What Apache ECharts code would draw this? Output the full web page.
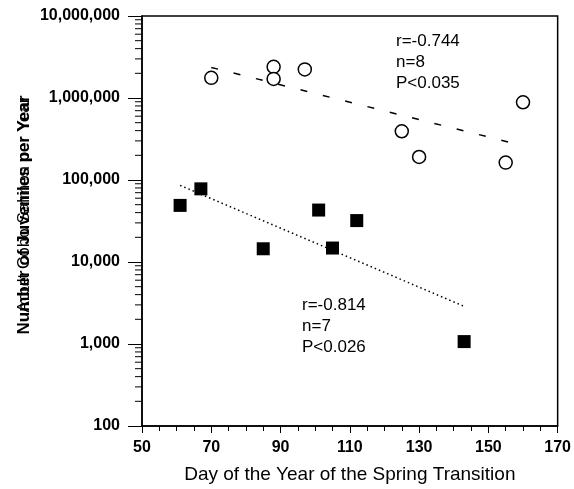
<!DOCTYPE html>
<html>
<head>
<meta charset="utf-8">
<script src="https://cdn.jsdelivr.net/npm/echarts@6/dist/echarts.min.js"></script>
<style>
  html, body { margin: 0; padding: 0; background: #fff; }
  #main { width: 574px; height: 489px; }
</style>
</head>
<body>
<div id="main"></div>
<script>
// open circles (upper group)
const circleDays = [70, 88, 88, 97, 125, 130, 155, 160]
const circleValues = [1760000, 2400000, 1710000, 2230000, 393000, 191000, 163000, 887000]
// filled squares (lower group)
const squareDays = [61, 67, 85, 101, 105, 112, 143]
const squareValues = [49000, 78000, 14500, 43000, 14800, 32000, 1070]
// fitted trend lines (end points)
const circleFitDays = [70, 156]
const circleFitValues = [2360000, 289000]
const squareFitDays = [61, 143]
const squareFitValues = [86000, 2880]
// log minor tick values
const minorTickValues = []
for (let d = 100; d < 10000000; d *= 10) {
  for (let m = 2; m <= 9; m++) minorTickValues.push(m * d)
}

const pairs = (xs, ys) => xs.map((x, i) => [x, ys[i]])
const font = 'Arial, "Liberation Sans", sans-serif'

const chart = echarts.init(document.getElementById('main'))

chart.setOption({
  animation: false,
  backgroundColor: '#fff',
  grid: {
    left: 142,
    right: 15,
    top: 16,
    bottom: 56,
    show: true,
    borderColor: '#000',
    borderWidth: 1.5
  },
  xAxis: {
    type: 'value',
    min: 50,
    max: 170,
    interval: 20,
    name: 'Day of the Year of the Spring Transition',
    nameLocation: 'middle',
    nameGap: 39,
    nameTextStyle: { fontFamily: font, fontSize: 19, color: '#000' },
    axisLine: { onZero: false, lineStyle: { color: '#000', width: 1.5 } },
    axisTick: { inside: false, length: 7, lineStyle: { color: '#000' } },
    minorTick: { show: true, splitNumber: 4, length: 5, lineStyle: { color: '#000' } },
    axisLabel: { fontFamily: font, fontSize: 16, fontWeight: 'bold', color: '#000', margin: 14 },
    splitLine: { show: false }
  },
  yAxis: {
    type: 'log',
    logBase: 10,
    min: 100,
    max: 10000000,
    axisLine: { lineStyle: { color: '#000', width: 1.5 } },
    axisTick: { inside: false, length: 14, lineStyle: { color: '#000' } },
    axisLabel: {
      fontFamily: font,
      fontSize: 16,
      fontWeight: 'bold',
      color: '#000',
      margin: 22,
      formatter: (v) => Math.round(v).toLocaleString('en-US')
    },
    splitLine: { show: false }
  },
  graphic: [
    {
      type: 'text',
      left: 396,
      top: 31,
      style: { text: 'r=-0.744\nn=8\nP<0.035', font: '17px ' + font, fill: '#000', lineHeight: 21 }
    },
    {
      type: 'text',
      left: 302,
      top: 295,
      style: { text: 'r=-0.814\nn=7\nP<0.026', font: '17px ' + font, fill: '#000', lineHeight: 21 }
    },
    {
      type: 'text',
      x: 24,
      y: 215,
      rotation: Math.PI / 2,
      style: { text: 'Number of Juveniles per Year', font: 'bold 17px ' + font, fill: '#000', align: 'center', verticalAlign: 'middle' }
    },
    {
      type: 'text',
      x: 24,
      y: 205,
      rotation: Math.PI / 2,
      style: { text: 'Adult Coho Salmon per Year', font: '17px ' + font, fill: '#000', align: 'center', verticalAlign: 'middle' }
    }
  ],
  series: [
    {
      type: 'custom',
      clip: false,
      silent: true,
      data: minorTickValues.map((v) => [50, v]),
      renderItem: (params, api) => {
        const p = api.coord([api.value(0), api.value(1)])
        return {
          type: 'line',
          shape: { x1: p[0] - 7, y1: p[1], x2: p[0], y2: p[1] },
          style: { stroke: '#000', lineWidth: 1 }
        }
      }
    },
    {
      type: 'line',
      data: pairs(circleFitDays, circleFitValues),
      symbol: 'none',
      lineStyle: { color: '#000', width: 1.5, type: [7, 16] },
      z: 1
    },
    {
      type: 'line',
      data: pairs(squareFitDays, squareFitValues),
      symbol: 'none',
      lineStyle: { color: '#000', width: 1.5, type: [1.5, 3] },
      z: 1
    },
    {
      type: 'scatter',
      data: pairs(circleDays, circleValues),
      symbol: 'circle',
      symbolSize: 13,
      itemStyle: { color: '#fff', borderColor: '#000', borderWidth: 1.5, opacity: 1 },
      z: 3
    },
    {
      type: 'scatter',
      data: pairs(squareDays, squareValues),
      symbol: 'rect',
      symbolSize: 13,
      itemStyle: { color: '#000', opacity: 1 },
      z: 3
    }
  ]
})
</script>
</body>
</html>
